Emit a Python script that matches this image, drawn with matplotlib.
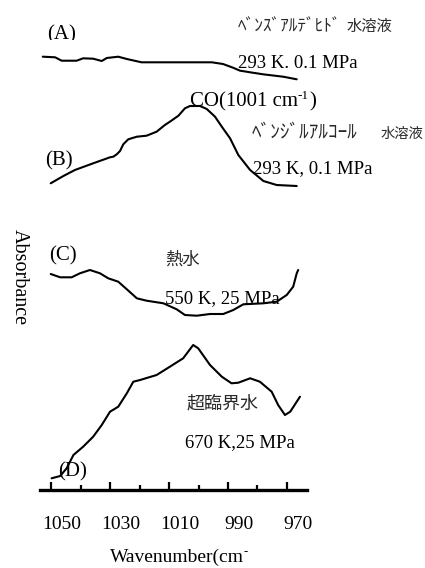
import matplotlib
matplotlib.use("Agg")
import matplotlib.pyplot as plt
import matplotlib.transforms as mtransforms
from matplotlib.transforms import Bbox

plt.rcParams['font.family'] = ['Liberation Serif', 'DejaVu Serif']

# ---------------- data (wavenumber cm^-1, absorbance in arbitrary stacked units) -------------
wn_A = [1052.8, 1048.6, 1046.4, 1041.3, 1039.1, 1035.7, 1032.8, 1031.1, 1027.2, 1024.3,
        1019.3, 1012.0, 995.5, 991.7, 988.3, 985.9, 983.7, 982.5, 978.1, 971.3, 966.7]
abs_A = [4.333, 4.327, 4.293, 4.293, 4.317, 4.313, 4.290, 4.320, 4.333, 4.310,
         4.277, 4.277, 4.277, 4.260, 4.223, 4.193, 4.183, 4.177, 4.157, 4.133, 4.107]

wn_B = [1050.1, 1045.8, 1041.9, 1035.7, 1030.0, 1028.9, 1027.7, 1026.6, 1025.5, 1023.8,
        1020.9, 1017.6, 1014.2, 1011.4, 1009.7, 1006.8, 1004.6, 1002.9, 999.5, 997.2,
        994.4, 992.1, 989.3, 986.5, 982.5, 978.0, 973.5, 966.7]
abs_B = [3.067, 3.140, 3.200, 3.267, 3.327, 3.333, 3.357, 3.390, 3.457, 3.507,
         3.533, 3.543, 3.583, 3.650, 3.683, 3.743, 3.817, 3.840, 3.840, 3.810,
         3.733, 3.633, 3.517, 3.350, 3.200, 3.090, 3.050, 3.040]

wn_C = [1050.1, 1046.9, 1043.0, 1040.2, 1036.8, 1033.4, 1030.6, 1027.2, 1024.3, 1020.9,
        1017.6, 1011.9, 1007.4, 1004.6, 1000.6, 996.1, 991.6, 988.2, 984.8, 978.0,
        973.5, 970.1, 967.9, 966.7, 966.2]
abs_C = [2.160, 2.127, 2.127, 2.167, 2.200, 2.167, 2.117, 2.083, 2.007, 1.917,
         1.893, 1.867, 1.807, 1.750, 1.743, 1.760, 1.760, 1.800, 1.857, 1.867,
         1.883, 1.950, 2.033, 2.167, 2.200]

wn_D = [1049.8, 1046.9, 1044.7, 1042.4, 1039.1, 1035.7, 1032.8, 1030.0, 1027.2, 1024.3,
        1022.1, 1019.8, 1014.2, 1009.7, 1005.2, 1001.8, 1000.1, 996.1, 992.1, 988.8,
        986.5, 982.5, 979.2, 975.2, 973.0, 970.7, 968.9, 965.6]
abs_D = [0.117, 0.140, 0.217, 0.350, 0.433, 0.533, 0.650, 0.783, 0.833, 0.967,
         1.083, 1.100, 1.150, 1.233, 1.317, 1.450, 1.417, 1.250, 1.133, 1.067,
         1.073, 1.117, 1.083, 0.983, 0.850, 0.750, 0.783, 0.933]

major_ticks = [1050, 1030, 1010, 990, 970]
minor_ticks = [1040, 1020, 1000, 980]
tick_labels = ['1050', '1030', '1010', '990', '970']

W, H = 425, 568
fig = plt.figure(figsize=(W / 100, H / 100), dpi=100)

def fx(x):
    return x / W

def fy(y):
    return 1 - y / H

ax = fig.add_axes([fx(40), fy(490), (307 - 40) / W, (490 - 30) / H])
ax.set_xlim(1053.73, 963.22)
ax.set_ylim(0, 4.6)

for wn, ab in [(wn_A, abs_A), (wn_B, abs_B), (wn_C, abs_C), (wn_D, abs_D)]:
    ax.plot(wn, ab, color='black', lw=1.5, solid_joinstyle='round', solid_capstyle='round', clip_on=False)

for s in ['top', 'right', 'left']:
    ax.spines[s].set_visible(False)
ax.spines['bottom'].set_linewidth(2.4)
ax.set_yticks([])
ax.set_xticks(major_ticks)
ax.set_xticks(minor_ticks, minor=True)
ax.set_xticklabels(tick_labels)
ax.tick_params(axis='x', which='major', direction='in', length=6, width=1.6, pad=19, labelsize=14)
ax.tick_params(axis='x', which='minor', direction='in', length=3.5, width=1.6)
offset = mtransforms.ScaledTranslation(11 / 100, 0, fig.dpi_scale_trans)
for lab in ax.get_xticklabels():
    lab.set_transform(lab.get_transform() + offset)

jp = ['Noto Sans CJK JP', 'DejaVu Sans']
jpc = '#2a2a2a'

def ftext(x, y, s, **kw):
    return fig.text(fx(x), fy(y), s, **kw)

# (A) clipped at its bottom
tA = ftext(47, 25, '(A)', fontsize=15, va='top', ha='left')
tA.set_clip_box(Bbox.from_extents(0, H - 40, W, H))
tA.set_clip_on(True)

ftext(45, 165, '(B)', fontsize=15, va='baseline')
ftext(49, 260, '(C)', fontsize=15, va='baseline')
ftext(58, 476, '(D)', fontsize=15, va='baseline')

ftext(238, 31, 'ﾍﾞﾝｽﾞｱﾙﾃﾞﾋﾄﾞ', family=jp, fontsize=12.5, color=jpc, va='baseline')
ftext(347, 31, '水溶液', family=jp, fontsize=11, color=jpc, va='baseline')
ftext(238, 68, '293 K. 0.1 MPa', fontsize=13.5, va='baseline')
ftext(252, 138, 'ﾍﾞﾝｼﾞﾙｱﾙｺｰﾙ', family=jp, fontsize=13.8, color=jpc, va='baseline')
ftext(381, 138, '水溶液', family=jp, fontsize=10.3, color=jpc, va='baseline')
ftext(253, 173, '293 K, 0.1 MPa', fontsize=13.5, va='baseline')
ftext(165, 265, '熱水', family=jp, fontsize=12.5, color=jpc, va='baseline')
ftext(165, 303, '550 K, 25 MPa', fontsize=13.5, va='baseline')
ftext(187, 409, '超臨界水', family=jp, fontsize=13, color=jpc, va='baseline')
ftext(185, 447, '670 K,25 MPa', fontsize=13.5, va='baseline')

ftext(19, 277, 'Absorbance', fontsize=14.5, rotation=270, ha='center', va='center')

# texts with a superscript (plain hyphen), built from pieces
co_main = ftext(190, 106, 'CO(1001 cm', fontsize=15, va='baseline')
wn_main = ftext(110, 562, 'Wavenumber(cm', fontsize=14, va='baseline')
fig.canvas.draw()
r = fig.canvas.get_renderer()
e = co_main.get_window_extent(r)
sup = fig.text(e.x1 / W, fy(99), '-1', fontsize=9.5, va='baseline')
fig.canvas.draw()
e2 = sup.get_window_extent(r)
fig.text(e2.x1 / W, fy(106), ')', fontsize=15, va='baseline')
e3 = wn_main.get_window_extent(r)
fig.text(e3.x1 / W, fy(555), '-', fontsize=9, va='baseline')

fig.savefig('out.png', dpi=100)
